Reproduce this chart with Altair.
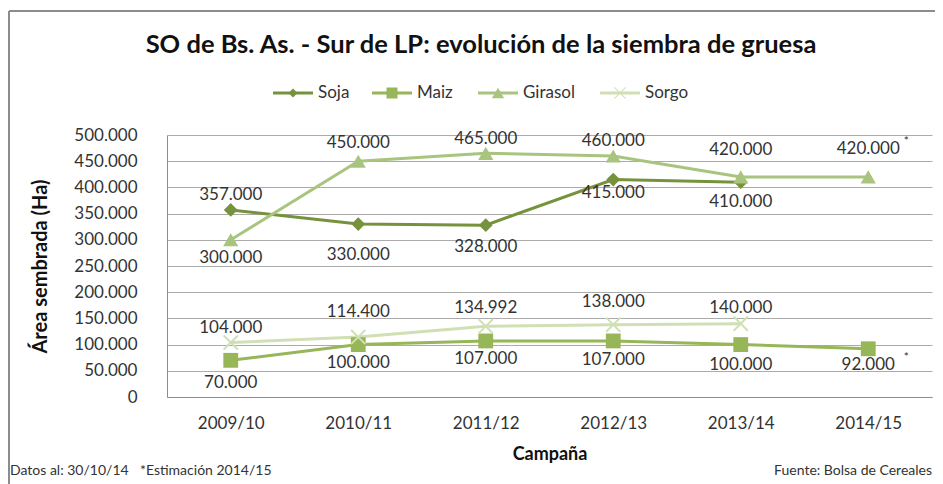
import altair as alt
import pandas as pd

# ---------------- data ----------------
campaigns = ["2009/10", "2010/11", "2011/12", "2012/13", "2013/14", "2014/15"]
series_names = ["Soja", "Maiz", "Girasol", "Sorgo"]
soja = [357000, 330000, 328000, 415000, 410000, None]
maiz = [70000, 100000, 107000, 107000, 100000, 92000]
girasol = [300000, 450000, 465000, 460000, 420000, 420000]
sorgo = [104000, 114400, 134992, 138000, 140000, None]
y_ticks = [0, 50000, 100000, 150000, 200000, 250000, 300000, 350000, 400000, 450000, 500000]

title_text = "SO de Bs. As. - Sur de LP: evolución de la siembra de gruesa"
y_title = "Área sembrada (Ha)"
x_title = "Campaña"
footer_left = "Datos al: 30/10/14"
footer_mid = "*Estimación 2014/15"
footer_right = "Fuente: Bolsa de Cereales"
estimate_campaign = "2014/15"

# ---------------- styles ----------------
colors = ["#76923C", "#96B657", "#A9C47F", "#D0E0B4"]
# data-label vertical offsets in pixels (positive = below the point)
label_dy = {
    "Soja": [-15, 31, 22, 13, 20],
    "Maiz": [23, 18, 18, 19, 20, 16],
    "Girasol": [18, -18, -14, -15, -27, -28],
    "Sorgo": [-15, -25, -18, -23, -16],
}
X_PATH = "M-1,-1L1,1M-1,1L1,-1"
X_FILLED = ("M-0.88,-1L1,0.88L0.88,1L-1,-0.88Z"
            "M-0.88,1L-1,0.88L0.88,-1L1,-0.88Z")
legend_x = [106, 205, 311, 433]          # legend entry start, px from plot left
legend_shapes = ["diamond", "square", "triangle-up", X_FILLED]
legend_sizes = [80, 120, 150, 144]
W, H = 765, 262
YMAX = 500000
FONT = "Lato"
TXT = "#333333"
GRID = "#ABABAB"

rows = []
for name, vals in zip(series_names, [soja, maiz, girasol, sorgo]):
    dys = label_dy[name]
    for i, (c, v) in enumerate(zip(campaigns, vals)):
        if v is None:
            continue
        rows.append({"campaign": c, "series": name, "value": v,
                     "label": f"{v:,}".replace(",", "."), "dy": dys[i]})
df = pd.DataFrame(rows)
one = pd.DataFrame({"k": [0]})
leg = pd.DataFrame({"series": series_names, "lx": legend_x,
                    "shape": legend_shapes, "size": legend_sizes})

color_scale = alt.Scale(domain=series_names, range=colors)
x_scale = alt.Scale(type="point", padding=0.5, domain=campaigns)
y_scale = alt.Scale(domain=[0, YMAX], nice=False)
x_axis = alt.Axis(title=x_title, labelAngle=0, ticks=False, domain=True,
                  domainColor="#8C8C8C", labelFontSize=17, labelColor=TXT,
                  labelPadding=18, titleFontSize=18, titleFontWeight="bold",
                  titleColor="#111111", titlePadding=14, grid=False)
y_axis = alt.Axis(title=y_title, values=y_ticks, ticks=False, domain=True,
                  domainColor="#8C8C8C", grid=True, gridColor=GRID,
                  labelOverlap=False,
                  labelExpr="replace(format(datum.value, ','), ',', '.')",
                  labelFontSize=17, labelColor=TXT, labelPadding=30,
                  titleFontSize=20, titleFontWeight="bold", titleColor="#111111",
                  titleAngle=270, titleX=-127, titleY=H / 2,
                  titleBaseline="middle", titleAlign="center")
X = lambda: alt.X("campaign:N", sort=campaigns, scale=x_scale, axis=x_axis)
Y = lambda f="value": alt.Y(f"{f}:Q", scale=y_scale, axis=y_axis)
COL = lambda: alt.Color("series:N", scale=color_scale, legend=None)

base = alt.Chart(df)

lines = base.mark_line(strokeWidth=3).encode(x=X(), y=Y(), color=COL(), detail="series:N")

def pts(name, **kw):
    return base.transform_filter(alt.datum.series == name).mark_point(opacity=1, **kw).encode(
        x=X(), y=Y(), color=COL())

p_soja = pts("Soja", shape="diamond", filled=True, size=190)
p_maiz = pts("Maiz", shape="square", filled=True, size=220)
p_gira = pts("Girasol", shape="triangle-up", filled=True, size=230)
p_sorg = pts("Sorgo", shape=X_PATH, filled=False, size=200, strokeWidth=2)

labels = base.transform_calculate(
    ly=f"datum.value - datum.dy * {YMAX} / {H}"
).mark_text(fontSize=17, font=FONT, color=TXT, baseline="middle", align="center").encode(
    x=X(), y=Y("ly"), text="label:N")

stars = base.transform_filter(alt.datum.campaign == estimate_campaign).transform_calculate(
    ly=f"datum.value - datum.dy * {YMAX} / {H}"
).mark_text(text="*", fontSize=12, font=FONT, color=TXT, dx=38, dy=-8,
            baseline="middle", align="center").encode(x=X(), y=Y("ly"))

# ---------------- legend (drawn by hand: line with marker) ----------------
LEG_Y = -42
lbase = alt.Chart(leg).transform_calculate(lx2="datum.lx + 40", lm="datum.lx + 20",
                                           lt="datum.lx + 45")
leg_lines = lbase.mark_rule(strokeWidth=3).encode(
    x=alt.X("lx:Q", scale=None, axis=None), x2="lx2:Q", y=alt.value(LEG_Y), color=COL())
leg_marks = lbase.mark_point(filled=True, opacity=1).encode(
    x=alt.X("lm:Q", scale=None, axis=None), y=alt.value(LEG_Y),
    shape=alt.Shape("shape:N", scale=None),
    size=alt.Size("size:Q", scale=None), color=COL())
leg_text = lbase.mark_text(font=FONT, fontSize=17, color=TXT, align="left",
                           baseline="middle").encode(
    x=alt.X("lt:Q", scale=None, axis=None), y=alt.value(LEG_Y), text="series:N")

txt = alt.Chart(one)
title = txt.mark_text(text=title_text, font=FONT, fontSize=25.5, fontWeight="bold",
                      color="#111111", align="center", baseline="middle").encode(
    x=alt.value(314), y=alt.value(-90))
FOOT_Y = 336
f1 = txt.mark_text(text=footer_left, font=FONT, fontSize=14, color=TXT,
                   align="left", baseline="middle").encode(x=alt.value(-157), y=alt.value(FOOT_Y))
f2 = txt.mark_text(text=footer_mid, font=FONT, fontSize=14, color=TXT,
                   align="left", baseline="middle").encode(x=alt.value(-27), y=alt.value(FOOT_Y))
f3 = txt.mark_text(text=footer_right, font=FONT, fontSize=14, color=TXT,
                   align="right", baseline="middle").encode(x=alt.value(765), y=alt.value(FOOT_Y))
border_h = txt.mark_rule(color="#8C8C8C", strokeWidth=2).encode(
    x=alt.value(-158), x2=alt.value(800), y=alt.value(-124))
border_v = txt.mark_rule(color="#8C8C8C", strokeWidth=2).encode(
    x=alt.value(-158), y=alt.value(-124), y2=alt.value(400))

chart = alt.layer(
    border_h, border_v, lines, p_soja, p_maiz, p_gira, p_sorg, labels, stars,
    leg_lines, leg_marks, leg_text, title, f1, f2, f3
).properties(
    width=W, height=H,
    padding={"left": 159, "top": 127, "right": 3, "bottom": 87},
    autosize=alt.AutoSizeParams(type="none"),
).configure_view(stroke=None).configure_axis(labelFont=FONT, titleFont=FONT)

chart.save("out.html", embed_options={"renderer": "svg", "actions": False})
